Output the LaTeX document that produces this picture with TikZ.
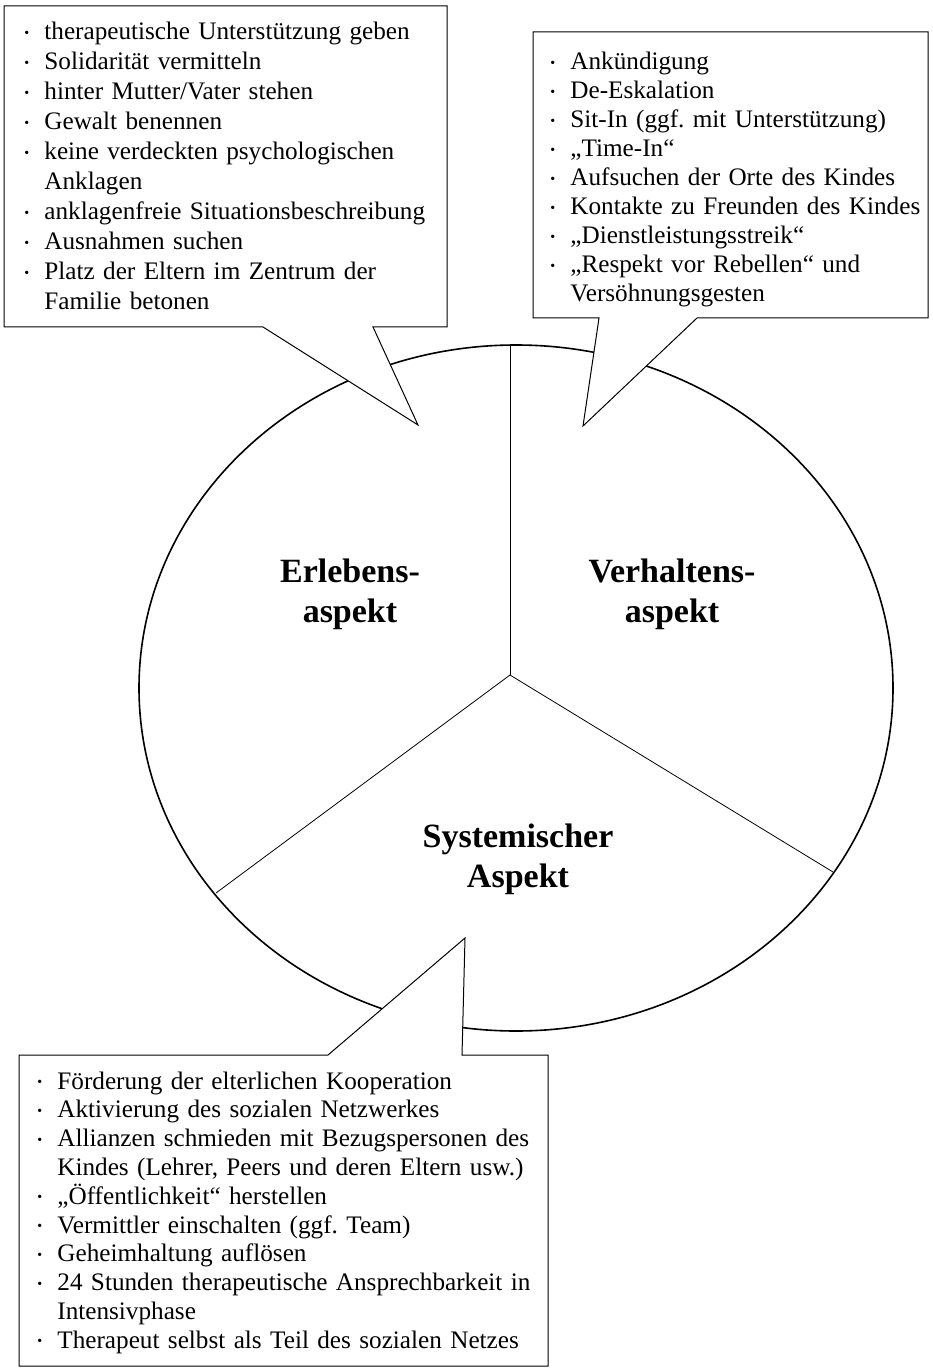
\documentclass[tikz,border=0pt]{standalone}
\usepackage{fontspec}
\setmainfont{Liberation Serif}
\usetikzlibrary{positioning}

\newcommand{\bpunkt}[1]{\hangindent=10pt\hangafter=1\makebox[10pt][l]{\raisebox{0.2ex}{\scriptsize\textbullet}}#1\par}

\begin{document}
\frenchspacing
\begin{tikzpicture}[x=0.5pt,y=-0.5pt]

\tikzstyle{bubble} = [draw=black, line width=0.5pt, fill=white, line join=miter]
\tikzstyle{liste} = [inner sep=0pt, anchor=base west, align=left, font=\fontsize{12.6}{15}\selectfont]
\tikzstyle{aspekt} = [inner sep=0pt, align=center, font=\fontsize{17}{20}\selectfont\bfseries]

\useasboundingbox (0,0) rectangle (932,1369);

%Kreis mit drei Sektoren

\coordinate (mitte) at (516,688);
\coordinate (nabe) at (510,675);
\coordinate (oben) at (510,345);
\coordinate (links) at (216,893);
\coordinate (rechts) at (833,872);

\draw[line width=0.8pt] (mitte) ellipse [x radius=377, y radius=343];
\draw[line width=0.4pt] (nabe) -- (oben);
\draw[line width=0.4pt] (nabe) -- (links);
\draw[line width=0.4pt] (nabe) -- (rechts);

\path (nabe)+(-160,-81) node (erleben) [aspekt] {Erlebens-\\aspekt};
\path (nabe)+(162,-81) node (verhalten) [aspekt] {Verhaltens-\\aspekt};
\path (nabe)+(8,184) node (system) [aspekt] {Systemischer\\Aspekt};

%Sprechblase: oben links

\draw[bubble] (4,6) -- (447,6) -- (447,327) -- (373,327) -- (418,425) -- (263,327) -- (4,327) -- cycle;

\path (24,40) node (erleben_liste) [liste, text width=215pt] {%
\bpunkt{therapeutische Unterstützung geben}%
\bpunkt{Solidarität vermitteln}%
\bpunkt{hinter Mutter/Vater stehen}%
\bpunkt{Gewalt benennen}%
\bpunkt{keine verdeckten psychologischen\newline Anklagen}%
\bpunkt{anklagenfreie Situationsbeschreibung}%
\bpunkt{Ausnahmen suchen}%
\bpunkt{Platz der Eltern im Zentrum der\newline Familie betonen}};

%Sprechblase: oben rechts

\draw[bubble] (533,32) -- (928,32) -- (928,318) -- (697,318) -- (583,426) -- (599,318) -- (533,318) -- cycle;

\path (550,70) node (verhalten_liste) [liste, text width=185pt, font=\fontsize{12.6}{14.5}\selectfont] {%
\bpunkt{Ankündigung}%
\bpunkt{De-Eskalation}%
\bpunkt{Sit-In (ggf. mit Unterstützung)}%
\bpunkt{„Time-In“}%
\bpunkt{Aufsuchen der Orte des Kindes}%
\bpunkt{Kontakte zu Freunden des Kindes}%
\bpunkt{„Dienstleistungsstreik“}%
\bpunkt{„Respekt vor Rebellen“ und\newline Versöhnungsgesten}};

%Sprechblase: unten

\draw[bubble] (19,1055) -- (328,1055) -- (465,938) -- (462,1055) -- (548,1055) -- (548,1366) -- (19,1366) -- cycle;

\path (37,1089) node (system_liste) [liste, text width=254pt, font=\fontsize{12.6}{14.4}\selectfont] {%
\bpunkt{Förderung der elterlichen Kooperation}%
\bpunkt{Aktivierung des sozialen Netzwerkes}%
\bpunkt{Allianzen schmieden mit Bezugspersonen des\newline Kindes (Lehrer, Peers und deren Eltern usw.)}%
\bpunkt{„Öffentlichkeit“ herstellen}%
\bpunkt{Vermittler einschalten (ggf. Team)}%
\bpunkt{Geheimhaltung auflösen}%
\bpunkt{24 Stunden therapeutische Ansprechbarkeit in\newline Intensivphase}%
\bpunkt{Therapeut selbst als Teil des sozialen Netzes}};

\end{tikzpicture}
\end{document}
